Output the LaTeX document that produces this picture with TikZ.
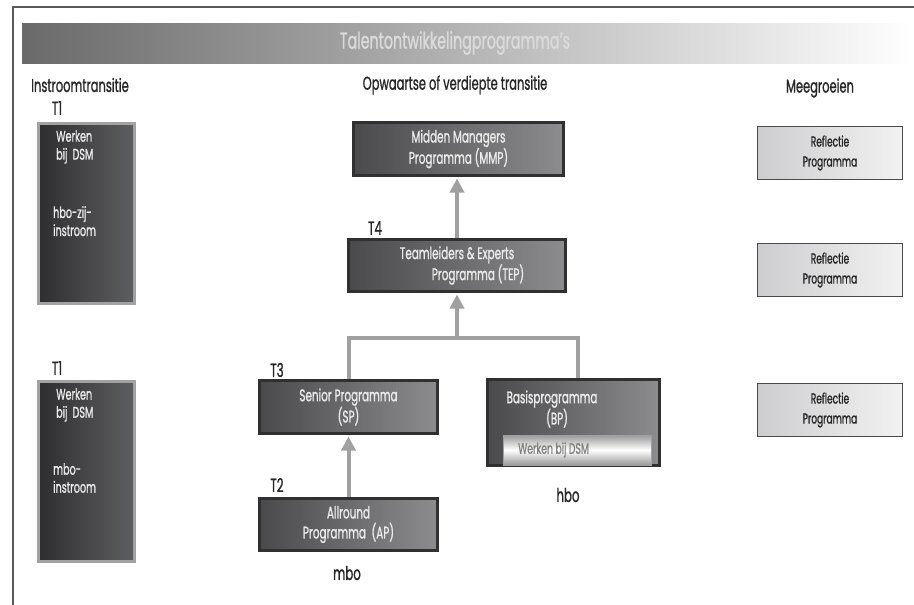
\documentclass[tikz,border=0pt]{standalone}
\usepackage{fontspec}
\setmainfont{Poppins}[FakeStretch=0.62, FakeBold=1]
\usetikzlibrary{arrows.meta}

\definecolor{framegray}{HTML}{5A5A5A}
\definecolor{titlegray}{HTML}{6A6A6A}
\definecolor{boxrim}{HTML}{A2A2A2}
\definecolor{indark}{HTML}{2E2E30}
\definecolor{inlight}{HTML}{5E5F62}
\definecolor{progrim}{HTML}{303030}
\definecolor{progdark}{HTML}{4A4A4C}
\definecolor{proglight}{HTML}{8C8C8E}
\definecolor{reflrim}{HTML}{4A4A4A}
\definecolor{refldark}{HTML}{CDCDCF}
\definecolor{refllight}{HTML}{F2F2F2}
\definecolor{arrowgray}{HTML}{A0A0A0}

\begin{document}
\begin{tikzpicture}[
  x=1pt, y=-1pt,
  every node/.style={font=\fontsize{16}{20}\selectfont, inner sep=0pt},
  head/.style={font=\fontsize{18.5}{20}\selectfont, text=black!85},
  tlabel/.style={font=\fontsize{19}{20}\selectfont, text=black!85},
  intext/.style={anchor=north west, align=left, text=white!92!black,
    font=\fontsize{15.5}{18}\selectfont},
  inbox/.style={draw=boxrim, line width=3pt, left color=indark, right color=inlight,
    minimum width=96pt, minimum height=180pt},
  progbox/.style={draw=progrim, line width=3pt, left color=progdark, right color=proglight,
    text=white!92!black, align=center, font=\fontsize{16.8}{20}\selectfont},
  reflbox/.style={draw=reflrim, line width=1.2pt, left color=refldark, right color=refllight,
    align=center, minimum width=145pt, minimum height=53pt, text=black!85,
    font=\fontsize{14.5}{20}\selectfont},
  uparrow/.style={draw=arrowgray, line width=4pt, shorten >=1.5pt,
    -{Triangle[width=14pt,length=14pt]}},
  link/.style={draw=arrowgray, line width=4pt}
]
  \useasboundingbox (0,0) rectangle (914,605);

  % Frame and title bar.
  \draw[framegray, line width=1.5pt] (13,605) -- (13,7) -- (914,7);
  \shade[left color=titlegray, right color=white] (22,23) rectangle (914,63);
  \node[font=\fontsize{23}{24}\selectfont, text=white!86!black] (title) at (455,43)
    {Talentontwikkelingprogramma's};

  % Column headings.
  \node[head] (hin) at (80,85) {Instroomtransitie};
  \node[head] (hup) at (455,85) {Opwaartse of verdiepte transitie};
  \node[head] (hgrow) at (820,88) {Meegroeien};

  % Instroom boxes.
  \node[tlabel] (t1a) at (57,108) {T1};
  \node[inbox] (inhbo) at (86.5,213.5) {};
  \node[intext] (inhbotop) at (56,130) {Werken\\bij\ \ DSM};
  \node[intext] (inhbobot) at (53,206) {hbo-zij-\\instroom};

  \node[tlabel] (t1b) at (57,368) {T1};
  \node[inbox] (inmbo) at (86.5,471.5) {};
  \node[intext] (inmbotop) at (56,388) {Werken\\bij\ \ DSM};
  \node[intext] (inmbobot) at (53,463) {mbo-\\instroom};

  % Programme boxes.
  \node[progbox, minimum width=210pt, minimum height=53pt] (mmp) at (458.5,149)
    {Midden Managers\\Programma (MMP)};
  \node[tlabel] (t4) at (375,228) {T4};
  \node[progbox, minimum width=217pt, minimum height=52pt] (tep) at (457,265.5)
    {Teamleiders \& Experts\\\hspace*{2.5em}Programma (TEP)};
  \node[tlabel] (t3) at (277,370) {T3};
  \node[progbox, minimum width=178pt, minimum height=53pt] (sp) at (348.5,407)
    {Senior Programma\\(SP)};
  \node[tlabel] (t2) at (277,485) {T2};
  \node[progbox, minimum width=178pt, minimum height=52pt] (ap) at (348.5,524.5)
    {Allround\\Programma\ \ (AP)};
  \node[tlabel] (mbo) at (347,573) {mbo};

  \node[progbox, line width=2.5pt, minimum width=172pt, minimum height=86pt] (bp) at (573.5,422.5) {};
  \node[align=center, text=white!92!black, font=\fontsize{16.8}{20}\selectfont] (bptext) at (552,409)
    {Basisprogramma\\\hspace*{0.6em}(BP)};
  \node[draw=arrowgray, line width=1pt, top color=black!40, bottom color=black!40, middle color=white,
    minimum width=148pt, minimum height=30pt] (bpwork) at (577.5,450) {};
  \node[anchor=west, text=black!50, font=\fontsize{15}{16}\selectfont] (bpworktext) at (518,450)
    {Werken bij DSM};
  \node[tlabel] (hbo) at (568,495) {hbo};

  % Reflectie boxes.
  \node[reflbox] (refl1) at (830,153) {Reflectie\\Programma};
  \node[reflbox] (refl2) at (830,270) {Reflectie\\Programma};
  \node[reflbox] (refl3) at (830,410) {Reflectie\\Programma};

  % Connectors.
  \coordinate (split) at (457,338);
  \draw[uparrow] (tep.north) -- (tep.north |- mmp.south);
  \draw[link] (sp.north) |- (split) -| ([xshift=4.5pt]bp.north);
  \draw[uparrow] (split) -- (split |- tep.south);
  \draw[uparrow] (ap.north) -- (sp.south);
\end{tikzpicture}
\end{document}
